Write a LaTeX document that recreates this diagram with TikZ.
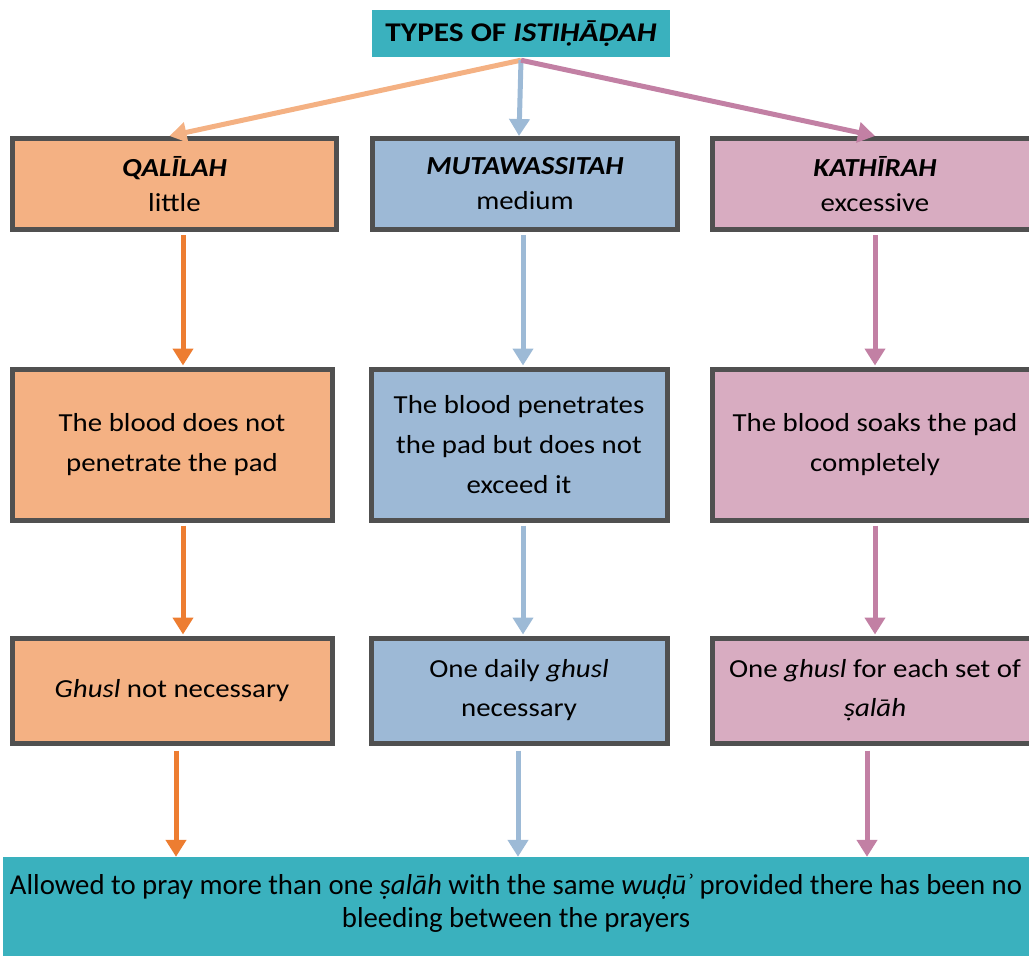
\documentclass[tikz,border=0pt]{standalone}
\usepackage{fontspec}
\setmainfont{Carlito}[FakeStretch=1.11]
\newfontfamily\titleface{Carlito}[FakeStretch=1.16]
\newfontfamily\plainface{Carlito}
\usetikzlibrary{arrows.meta}

\definecolor{tealbox}{HTML}{3AB1BE}
\definecolor{edgegray}{HTML}{505050}
\definecolor{qalfill}{HTML}{F4B183}
\definecolor{mutfill}{HTML}{9DB9D6}
\definecolor{katfill}{HTML}{D8ACC1}
\definecolor{qalline}{HTML}{ED7D31}
\definecolor{mutline}{HTML}{9DBAD6}
\definecolor{katline}{HTML}{C280A4}

\begin{document}
\begin{tikzpicture}[
  x=1pt, y=-1pt,
  box/.style={draw=edgegray,line width=5pt,align=center,inner sep=2pt,
              font=\fontsize{26}{40}\selectfont},
  hdrbox/.style={box,font=\fontsize{26}{35}\selectfont},
  endbox/.style={box,font=\fontsize{26}{39}\selectfont},
  teal/.style={fill=tealbox,align=center,inner sep=0pt},
  flow/.style={line width=5pt,-{Triangle[width=20pt,length=17pt]}}]

\useasboundingbox (0,0) rectangle (1029,956);

\node[teal,minimum width=298,minimum height=47,font=\fontsize{27}{30}\titleface\bfseries]
  (title) at (521,33.5) {TYPES OF \textit{ISTIḤĀḌAH}};

\node[hdrbox,fill=qalfill,minimum width=324,minimum height=91] (qal1) at (174.5,184)
  {\textbf{\textit{QALĪLAH}}\\little};
\node[hdrbox,fill=mutfill,minimum width=305,minimum height=91] (mut1) at (525,184)
  {\textbf{\textit{MUTAWASSITAH}}\\medium};
\node[hdrbox,fill=katfill,minimum width=326,minimum height=91] (kat1) at (875,184)
  {\textbf{\textit{KATHĪRAH}}\\excessive};

\node[box,fill=qalfill,minimum width=320,minimum height=151] (qal2) at (172,444.5)
  {The blood does not\\penetrate the pad};
\node[box,fill=mutfill,minimum width=296,minimum height=151] (mut2) at (519,444.5)
  {The blood penetrates\\the pad but does not\\exceed it};
\node[box,fill=katfill,minimum width=326,minimum height=151] (kat2) at (875,444.5)
  {The blood soaks the pad\\completely};

\node[endbox,fill=qalfill,minimum width=320,minimum height=105] (qal3) at (172,690.5)
  {\textit{Ghusl} not necessary};
\node[endbox,fill=mutfill,minimum width=296,minimum height=105] (mut3) at (519,690.5)
  {One daily \textit{ghusl}\\necessary};
\node[endbox,fill=katfill,minimum width=326,minimum height=105] (kat3) at (875,690.5)
  {One \textit{ghusl} for each set of\\\textit{ṣalāh}};

\node[teal,minimum width=1026,minimum height=99,font=\fontsize{28.8}{33}\plainface]
  (allowed) at (516,906.5)
  {Allowed to pray more than one \textit{ṣalāh} with the same \textit{wuḍūʾ} provided there has been no\\bleeding between the prayers\vphantom{g}\\[-22pt]};

\draw[flow,draw=qalfill] ([yshift=-3pt]title.south) -- ([xshift=-5pt]qal1.north);
\draw[flow,draw=mutline] ([yshift=-3pt]title.south) -- ([xshift=-6pt]mut1.north);
\draw[flow,draw=katline] ([yshift=-3pt]title.south) -- (kat1.north);

\draw[flow,draw=qalline] ([xshift=8.5pt,yshift=-3pt]qal1.south) -- ([xshift=11pt,yshift=1pt]qal2.north);
\draw[flow,draw=mutline] ([xshift=-2pt,yshift=-3pt]mut1.south) -- ([xshift=4pt,yshift=1pt]mut2.north);
\draw[flow,draw=katline] ([yshift=-3pt]kat1.south) -- ([yshift=1pt]kat2.north);

\draw[flow,draw=qalline] ([xshift=11pt,yshift=-3pt]qal2.south) -- ([xshift=11pt,yshift=1pt]qal3.north);
\draw[flow,draw=mutline] ([xshift=4pt,yshift=-3pt]mut2.south) -- ([xshift=4pt,yshift=1pt]mut3.north);
\draw[flow,draw=katline] ([yshift=-3pt]kat2.south) -- ([yshift=1pt]kat3.north);

\draw[flow,draw=qalline] ([xshift=4pt,yshift=-5pt]qal3.south) -- ([xshift=-340pt]allowed.north);
\draw[flow,draw=mutline] ([xshift=-1pt,yshift=-5pt]mut3.south) -- ([xshift=2pt]allowed.north);
\draw[flow,draw=katline] ([xshift=-8pt,yshift=-5pt]kat3.south) -- ([xshift=351pt]allowed.north);
\end{tikzpicture}
\end{document}
